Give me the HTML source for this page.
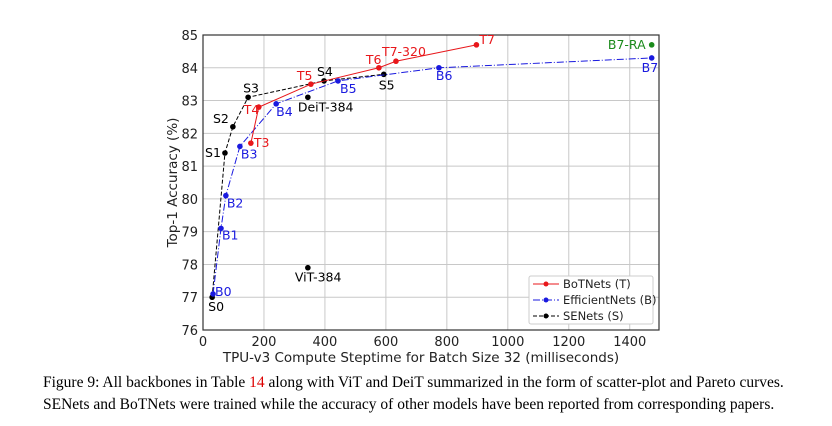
<!DOCTYPE html>
<html><head><meta charset="utf-8"><style>
body{margin:0;background:#fff;width:832px;height:426px;overflow:hidden}
svg text{font-family:"DejaVu Sans","Liberation Sans",sans-serif}
.cap{position:absolute;left:43px;font-family:"Liberation Serif",serif;font-size:15.5px;color:#000;white-space:nowrap}
</style></head><body>
<svg id="chart" width="832" height="370" style="position:absolute;left:0;top:0"></svg>
<div class="cap" style="top:374px">Figure 9: All backbones in Table <span style="color:#d00">14</span> along with ViT and DeiT summarized in the form of scatter-plot and Pareto curves.</div>
<div class="cap" style="top:396px">SENets and BoTNets were trained while the accuracy of other models have been reported from corresponding papers.</div>
<script>
const tNames=["T3","T4","T5","T6","T7-320","T7"];
const tX=[157,183,354,577,633,897];
const tY=[81.7,82.8,83.5,84.0,84.2,84.7];
const bNames=["B0","B1","B2","B3","B4","B5","B6","B7"];
const bX=[33,59,75,121,240,443,774,1472];
const bY=[77.1,79.1,80.1,81.6,82.9,83.6,84.0,84.3];
const sNames=["S0","S1","S2","S3","S4","S5"];
const sX=[30,72,98,148,397,593];
const sY=[77.0,81.4,82.2,83.1,83.6,83.8];
const otherNames=["DeiT-384","ViT-384","B7-RA"];
const otherX=[344,344,1472];
const otherY=[83.1,77.9,84.7];
const xTicks=[0,200,400,600,800,1000,1200,1400];
const yTicks=[76,77,78,79,80,81,82,83,84,85];

const L=203,R=659,T=35,B=330;
const xs=v=>L+(v/1496)*(R-L);
const ys=v=>B-(v-76)/9*(B-T);
const svg=document.getElementById('chart');
const NS="http://www.w3.org/2000/svg";
function mk(tag,attrs,txt){const e=document.createElementNS(NS,tag);for(const k in attrs)e.setAttribute(k,attrs[k]);if(txt!==undefined)e.textContent=txt;svg.appendChild(e);return e;}

xTicks.forEach(v=>{
 const g=mk('line',{x1:xs(v),x2:xs(v),y1:T,y2:B,stroke:'#c8c8c8','stroke-width':1});
 
 
 const t=mk('text',{x:xs(v),y:B+16,'font-size':13,'text-anchor':'middle',fill:'#222'},v);
 
 
});
yTicks.forEach(v=>{
 const g=mk('line',{x1:L,x2:R,y1:ys(v),y2:ys(v),stroke:'#c8c8c8','stroke-width':1});
 
 
 const t=mk('text',{x:L-5,y:ys(v)+5,'font-size':13,'text-anchor':'end',fill:'#222'},v);
 
 
});
const fr=mk('rect',{x:L,y:T,width:R-L,height:B-T,fill:'none',stroke:'#333','stroke-width':1.2});


const xt=mk('text',{x:(L+R)/2-10,y:B+32,'font-size':13.5,'text-anchor':'middle',fill:'#222'},'TPU-v3 Compute Steptime for Batch Size 32 (milliseconds)');


const yt=mk('text',{x:0,y:0,'font-size':13.5,'text-anchor':'middle',fill:'#222',transform:`translate(177,${(T+B)/2}) rotate(-90)`},'Top-1 Accuracy (%)');



function series(xa,ya,names,color,dash,r,key,offs){
 const pts=xa.map((x,i)=>xs(x)+','+ys(ya[i])).join(' ');
 const pl=mk('polyline',{points:pts,fill:'none',stroke:color,'stroke-width':1,'stroke-dasharray':dash});
 
 
 xa.forEach((x,i)=>{
  const c=mk('circle',{cx:xs(x),cy:ys(ya[i]),r:r,fill:color});
  
  
  const o=offs[i];
  const t=mk('text',{x:xs(x)+o[0],y:ys(ya[i])+o[1],'font-size':12.5,fill:color,'text-anchor':o[2]||'start'},names[i]);
  
  
 });
}
series(sX,sY,sNames,'#000','4,2',2.8,'senets',[[-4,14],[-4,4,'end'],[-4,-4,'end'],[-5,-5],[-7,-5],[-5,15]]);
series(bX,bY,bNames,'#1a1adf','7,2,1,2',2.8,'efficientnets',[[2,2],[1,11],[1,12],[1,12],[0,12],[2,12],[-3,12],[-10,14]]);
series(tX,tY,tNames,'#e8171b','',2.8,'botnets',[[3,4],[-15,7],[-14,-4],[-13,-4],[-14,-5],[3,-1]]);
const oc=['#000','#000','#1a8a1a'];
const oo=[[-10,14],[-13,14],[-6,4,'end']];
otherX.forEach((x,i)=>{
 const c=mk('circle',{cx:xs(x),cy:ys(otherY[i]),r:2.8,fill:oc[i]});
 
 
 const t=mk('text',{x:xs(x)+oo[i][0],y:ys(otherY[i])+oo[i][1],'font-size':12.5,fill:oc[i],'text-anchor':oo[i][2]||'start'},otherNames[i]);
 
 
});
const lg=mk('rect',{x:529,y:276,width:124,height:48,fill:'#fff',stroke:'#ccc',rx:2});


[['BoTNets (T)','#e8171b',''],['EfficientNets (B)','#1a1adf','7,2,1,2'],['SENets (S)','#000','4,2']].forEach((e,i)=>{
 const y=284+i*16;
 const l=mk('line',{x1:533,x2:559,y1:y,y2:y,stroke:e[1],'stroke-dasharray':e[2]});
 
 
 const c=mk('circle',{cx:546,cy:y,r:2.5,fill:e[1]});
 
 
 const t=mk('text',{x:563,y:y+4,'font-size':11.5,fill:'#222'},e[0]);
 
 
});
</script>
</body></html>
